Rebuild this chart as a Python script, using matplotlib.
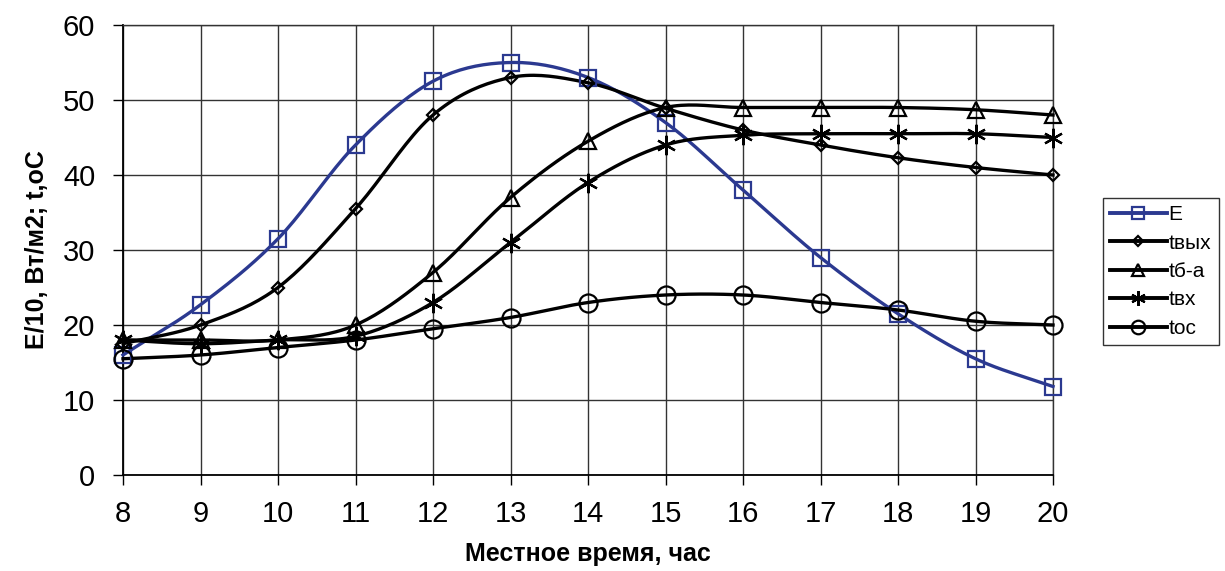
import numpy as np
import matplotlib
matplotlib.use('Agg')
import matplotlib.pyplot as plt

plt.rcParams['font.family'] = ['Liberation Sans', 'DejaVu Sans']

# ========== данные ==========
hours = [8, 9, 10, 11, 12, 13, 14, 15, 16, 17, 18, 19, 20]
E = [16.0, 22.7, 31.5, 44.0, 52.5, 55.0, 53.0, 47.0, 38.0, 29.0, 21.5, 15.5, 11.8]
t_vyh = [17.5, 20.0, 25.0, 35.5, 48.0, 53.0, 52.3, 48.9, 46.0, 44.0, 42.3, 41.0, 40.0]
t_ba = [18.0, 18.0, 18.0, 20.0, 27.0, 37.0, 44.5, 49.0, 49.0, 49.0, 49.0, 48.7, 48.0]
t_vh = [18.0, 17.5, 18.0, 18.5, 23.0, 31.0, 39.0, 44.0, 45.3, 45.5, 45.5, 45.5, 45.0]
t_os = [15.5, 16.0, 17.0, 18.0, 19.5, 21.0, 23.0, 24.0, 24.0, 23.0, 22.0, 20.5, 20.0]


def smooth(x, y, n=20):
    # сглаживание как в Excel (Catmull-Rom)
    x = np.asarray(x, float)
    y = np.asarray(y, float)
    px = np.concatenate([[2 * x[0] - x[1]], x, [2 * x[-1] - x[-2]]])
    py = np.concatenate([[2 * y[0] - y[1]], y, [2 * y[-1] - y[-2]]])
    xs, ys = [], []
    t = np.linspace(0, 1, n, endpoint=False)
    for i in range(1, len(px) - 2):
        for arr, out in ((px, xs), (py, ys)):
            p0, p1, p2, p3 = arr[i - 1], arr[i], arr[i + 1], arr[i + 2]
            out.extend(0.5 * (2 * p1 + (-p0 + p2) * t
                              + (2 * p0 - 5 * p1 + 4 * p2 - p3) * t ** 2
                              + (-p0 + 3 * p1 - 3 * p2 + p3) * t ** 3))
    xs.append(x[-1])
    ys.append(y[-1])
    return xs, ys


fig = plt.figure(figsize=(12.25, 5.71), dpi=100)
ax = fig.add_axes([123 / 1225, 1 - 475 / 571, (1053 - 123) / 1225, 450 / 571])

series = [
    ('E', E, '#2B3990', 's', 12),
    ('tвых', t_vyh, 'black', 'D', 6.5),
    ('tб-а', t_ba, 'black', '^', 11),
    ('tвх', t_vh, 'black', (6, 2, 0), 14),
    ('tос', t_os, 'black', 'o', 13),
]

for name, vals, col, mk, ms in series:
    sx, sy = smooth(hours, vals)
    ax.plot(sx, sy, '-', color=col, linewidth=2.4, zorder=3, clip_on=False)
    ax.plot(hours, vals, linestyle='none', marker=mk, markersize=ms, clip_on=False,
            markerfacecolor='none', markeredgecolor=col, markeredgewidth=1.6, zorder=4)
    ax.plot([], [], '-', color=col, linewidth=2.8, marker=mk, markersize=ms * 0.75,
            markerfacecolor='none', markeredgecolor=col, markeredgewidth=1.6, label=name)

ax.set_xlim(8, 20)
ax.set_ylim(0, 60)
ax.set_xticks(hours)
ax.set_yticks(range(0, 61, 10))
ax.grid(True, color='#333333', linewidth=1.0)
ax.set_axisbelow(True)
for s in ['top', 'right']:
    ax.spines[s].set_color('#333333')
    ax.spines[s].set_linewidth(1.0)
ax.spines['left'].set_linewidth(1.3)
ax.spines['bottom'].set_linewidth(1.3)
ax.tick_params(axis='both', direction='out', length=7, width=1.0, labelsize=21)
ax.tick_params(axis='x', pad=11)
ax.tick_params(axis='y', pad=13)

ax.set_xlabel('Местное время, час', fontsize=18, fontweight='bold', labelpad=10)
ax.set_ylabel('E/10, Вт/м2; t,oC', fontsize=18, fontweight='bold', labelpad=10)

leg = fig.legend(loc='upper left', bbox_to_anchor=(1103 / 1225, 1 - 198 / 571),
                 fontsize=15, frameon=True, fancybox=False, edgecolor='black',
                 handlelength=2.7, handletextpad=0.1, labelspacing=0.45,
                 borderpad=0.35, borderaxespad=0)
leg.get_frame().set_linewidth(1.0)

fig.savefig('out.png', dpi=100)
